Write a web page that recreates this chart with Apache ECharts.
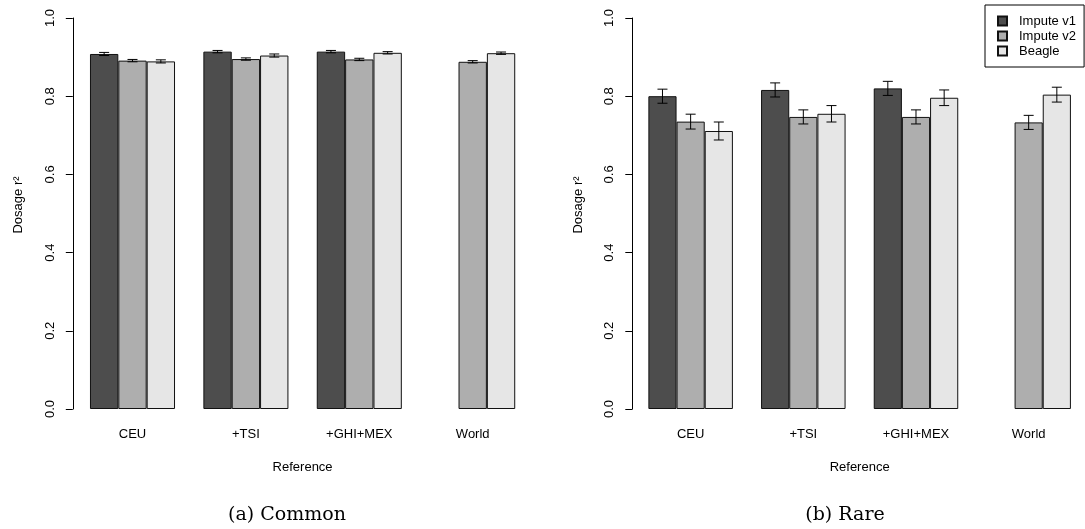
<!DOCTYPE html>
<html>
<head>
<meta charset="utf-8">
<script src="https://cdn.jsdelivr.net/npm/echarts@6/dist/echarts.min.js"></script>
<style>
html,body{margin:0;padding:0;background:#fff;}
#chart{width:1085px;height:529px;}
</style>
</head>
<body>
<div id="chart"></div>
<script>
var categories = ['CEU', '+TSI', '+GHI+MEX', 'World'];
var methods = ['Impute v1', 'Impute v2', 'Beagle'];
var yTicks = [0, 0.2, 0.4, 0.6, 0.8, 1.0];

// (a) Common
var commonV1 = [0.908, 0.914, 0.914, null];
var commonV2 = [0.891, 0.895, 0.894, 0.888];
var commonBeagle = [0.889, 0.904, 0.911, 0.910];
var commonErrV1 = [0.004, 0.003, 0.003, null];
var commonErrV2 = [0.003, 0.003, 0.003, 0.003];
var commonErrBeagle = [0.004, 0.004, 0.003, 0.003];

// (b) Rare
var rareV1 = [0.800, 0.816, 0.820, null];
var rareV2 = [0.735, 0.747, 0.747, 0.733];
var rareBeagle = [0.711, 0.755, 0.796, 0.804];
var rareErrV1 = [0.018, 0.018, 0.018, null];
var rareErrV2 = [0.019, 0.018, 0.018, 0.018];
var rareErrBeagle = [0.023, 0.021, 0.020, 0.019];

var colors = ['#4d4d4d', '#aeaeae', '#e6e6e6'];
var FONT = 'Liberation Sans, Arial, sans-serif';

function errData(vals, errs) {
  var out = [];
  for (var i = 0; i < vals.length; i++) {
    if (vals[i] != null) out.push([i, vals[i] - errs[i], vals[i] + errs[i]]);
  }
  return out;
}

function errSeries(vals, errs, k, gi) {
  return {
    type: 'custom',
    name: 'err' + gi + '_' + k,
    xAxisIndex: gi, yAxisIndex: gi,
    data: errData(vals, errs),
    encode: {x: 0, y: [1, 2]},
    z: 10,
    silent: true,
    renderItem: function (params, api) {
      var c = api.value(0), lo = api.value(1), hi = api.value(2);
      var pt = api.coord([c, hi]);
      var pb = api.coord([c, lo]);
      var band = api.size([1, 0])[0];
      var bw = band * 0.75 / 3;
      var x = pt[0] + (k - 1) * bw;
      var hw = 5;
      var st = {stroke: '#000', lineWidth: 1};
      return {
        type: 'group',
        children: [
          {type: 'line', shape: {x1: x, y1: pt[1], x2: x, y2: pb[1]}, style: st},
          {type: 'line', shape: {x1: x - hw, y1: pt[1], x2: x + hw, y2: pt[1]}, style: st},
          {type: 'line', shape: {x1: x - hw, y1: pb[1], x2: x + hw, y2: pb[1]}, style: st}
        ]
      };
    }
  };
}

function barSeries(name, vals, k, gi) {
  return {
    type: 'bar',
    name: name,
    xAxisIndex: gi, yAxisIndex: gi,
    data: vals.map(function (v) { return v == null ? '-' : v; }),
    barGap: '0%',
    barCategoryGap: '25%',
    itemStyle: {color: colors[k], borderColor: '#111', borderWidth: 1},
    emphasis: {disabled: true}
  };
}

function xAx(gi) {
  return {
    type: 'category', gridIndex: gi, data: categories,
    axisLine: {show: false}, axisTick: {show: false},
    axisLabel: {fontFamily: FONT, fontSize: 13, color: '#000', margin: 19},
    name: 'Reference', nameLocation: 'middle', nameGap: 52,
    nameTextStyle: {fontFamily: FONT, fontSize: 13, color: '#000'}
  };
}

function yAx(gi, off) {
  return {
    type: 'value', gridIndex: gi, min: 0, max: 1, interval: 0.2,
    offset: off,
    axisLine: {show: true, lineStyle: {color: '#000', width: 1}},
    axisTick: {show: true, length: 7, lineStyle: {color: '#000'}},
    splitLine: {show: false},
    axisLabel: {
      fontFamily: FONT, fontSize: 13, color: '#000', rotate: 90, margin: 16,
      formatter: function (v) { return v.toFixed(1); }
    }
  };
}

var series = [
  barSeries(methods[0], commonV1, 0, 0),
  barSeries(methods[1], commonV2, 1, 0),
  barSeries(methods[2], commonBeagle, 2, 0),
  barSeries(methods[0], rareV1, 0, 1),
  barSeries(methods[1], rareV2, 1, 1),
  barSeries(methods[2], rareBeagle, 2, 1),
  errSeries(commonV1, commonErrV1, 0, 0),
  errSeries(commonV2, commonErrV2, 1, 0),
  errSeries(commonBeagle, commonErrBeagle, 2, 0),
  errSeries(rareV1, rareErrV1, 0, 1),
  errSeries(rareV2, rareErrV2, 1, 1),
  errSeries(rareBeagle, rareErrBeagle, 2, 1)
];

var chart = echarts.init(document.getElementById('chart'), null, {renderer: 'canvas'});
chart.setOption({
  animation: false,
  backgroundColor: '#fff',
  grid: [
    {left: 75.8, width: 453.6, top: 18, height: 391},
    {left: 634.3, width: 456, top: 18, height: 391}
  ],
  xAxis: [xAx(0), xAx(1)],
  yAxis: [yAx(0, 3), yAx(1, 2)],
  legend: {
    data: methods,
    orient: 'vertical',
    left: 985, top: 5,
    itemWidth: 9, itemHeight: 9,
    itemGap: 1,
    padding: [9, 8, 9, 12],
    borderColor: '#000', borderWidth: 1,
    icon: 'rect',
    selectedMode: false,
    textStyle: {fontFamily: FONT, fontSize: 13, color: '#000', padding: [0, 0, 0, 7], lineHeight: 14}
  },
  graphic: [
    {type: 'text', x: 18, y: 205, rotation: Math.PI / 2,
      style: {text: 'Dosage r²', font: '13px ' + FONT, fill: '#000', textAlign: 'center', textVerticalAlign: 'middle'}},
    {type: 'text', x: 578, y: 205, rotation: Math.PI / 2,
      style: {text: 'Dosage r²', font: '13px ' + FONT, fill: '#000', textAlign: 'center', textVerticalAlign: 'middle'}},
    {type: 'text', x: 287, y: 515,
      style: {text: '(a) Common', font: '19px "DejaVu Serif", serif', fill: '#000', textAlign: 'center', textVerticalAlign: 'middle'}},
    {type: 'text', x: 845, y: 515,
      style: {text: '(b) Rare', font: '19px "DejaVu Serif", serif', fill: '#000', textAlign: 'center', textVerticalAlign: 'middle'}}
  ],
  series: series
});
</script>
</body>
</html>
